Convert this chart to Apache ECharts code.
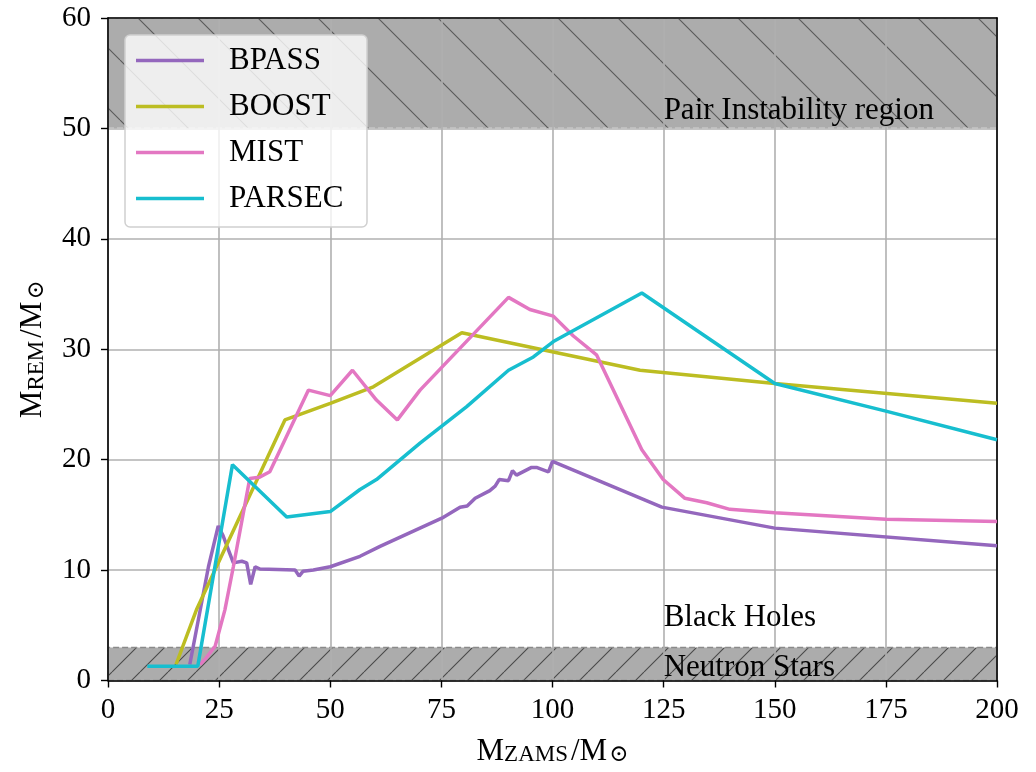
<!DOCTYPE html>
<html>
<head>
<meta charset="utf-8">
<script src="https://cdn.jsdelivr.net/npm/echarts@6/dist/echarts.min.js"></script>
<style>
html, body { margin: 0; padding: 0; background: #fff; }
#main { width: 1036px; height: 772px; }
</style>
</head>
<body>
<div id="main"></div>
<script>
// 轴刻度
var xTicks = [0, 25, 50, 75, 100, 125, 150, 175, 200];
var yTicks = [0, 10, 20, 30, 40, 50, 60];

// 各模型的 [M_ZAMS, M_REM]
var seriesNames = ['BPASS', 'BOOST', 'MIST', 'PARSEC'];
var bpass = [[18.4, 1.45], [22.6, 10.3], [24.8, 14.0], [25.9, 13.1], [28.2, 10.65], [30.1, 10.8], [31.2, 10.65],
    [32.1, 8.7], [33.1, 10.3], [34.2, 10.1], [42.1, 10.0], [43.0, 9.45], [43.9, 9.9], [46.2, 10.0], [50, 10.3],
    [56.7, 11.25], [61.2, 12.15], [75.1, 14.7], [79.2, 15.7], [80.8, 15.8], [82.6, 16.5], [85.9, 17.2],
    [87.1, 17.6], [88.0, 18.2], [90.1, 18.1], [91.0, 19.0], [91.9, 18.6], [95.3, 19.3], [96.4, 19.3],
    [99.1, 18.9], [100, 19.85], [124.6, 15.7], [150, 13.8], [200, 12.2]];
var boost = [[15.3, 1.45], [20, 6.5], [39.8, 23.6], [50, 25.1], [59.7, 26.6], [79.6, 31.5], [119.7, 28.1],
    [150, 26.9], [200, 25.1]];
var mist = [[20.7, 1.45], [22, 2.0], [24.1, 3.1], [26.3, 6.4], [28.2, 10.3], [30, 14.2], [31.9, 18.3],
    [34, 18.4], [36.4, 18.9], [45.1, 26.3], [50, 25.8], [55, 28.1], [60.4, 25.4], [65.1, 23.6], [70.2, 26.3],
    [90.1, 34.7], [94.9, 33.6], [100.2, 33.0], [104.7, 31.2], [109.9, 29.5], [120.1, 20.9], [124.9, 18.2],
    [129.8, 16.5], [134.7, 16.1], [139.9, 15.5], [150, 15.2], [175, 14.6], [200, 14.4]];
var parsec = [[8.85, 1.3], [20.2, 1.3], [28.0, 19.55], [40.2, 14.8], [50, 15.3], [56.7, 17.3], [60.4, 18.2],
    [70.2, 21.5], [80.7, 24.8], [90.1, 28.1], [95.7, 29.3], [100.2, 30.7], [120.1, 35.1], [150, 26.9],
    [175, 24.4], [200, 21.8]];
var seriesColors = ['#9467bd', '#bcbd22', '#e377c2', '#17becf'];

// 区域
var pairRange = [50, 60];
var nsRange = [0, 3];
var regionLabels = [
    { name: 'Pair Instability region', value: [125, 51] },
    { name: 'Black Holes', value: [125, 5] },
    { name: 'Neutron Stars', value: [125, 0.5] }
];

var F = '"Liberation Serif", "DejaVu Serif", serif';

// 斜线填充
function hatch(step, dir, lineColor, lineWidth) {
    var c = document.createElement('canvas');
    c.width = step;
    c.height = step;
    var ctx = c.getContext('2d');
    ctx.fillStyle = '#acacac';
    ctx.fillRect(0, 0, step, step);
    ctx.strokeStyle = lineColor;
    ctx.lineWidth = lineWidth;
    ctx.beginPath();
    for (var k = -1; k <= 1; k++) {
        if (dir === '\\') {
            ctx.moveTo(k * step, 0);
            ctx.lineTo(k * step + step, step);
        } else {
            ctx.moveTo(k * step, step);
            ctx.lineTo(k * step + step, 0);
        }
    }
    ctx.stroke();
    return c;
}

var nameRich = {
    m: { fontFamily: F, fontSize: 31, lineHeight: 30, verticalAlign: 'middle', color: '#000' },
    sl: { fontFamily: F, fontSize: 31, lineHeight: 30, verticalAlign: 'middle', color: '#000', padding: [0, 2, 0, 3] },
    s: { fontFamily: F, fontSize: 23, lineHeight: 12, verticalAlign: 'bottom', color: '#000' }
};

var myChart = echarts.init(document.getElementById('main'));

var lineSeries = [bpass, boost, mist, parsec].map(function (d, i) {
    return {
        name: seriesNames[i],
        type: 'line',
        data: d,
        symbol: 'none',
        z: 3,
        lineStyle: { width: 3.5, color: seriesColors[i] },
        itemStyle: { color: seriesColors[i] }
    };
});

var option = {
    animation: false,
    grid: { left: 108, right: 39, top: 18, bottom: 91 },
    legend: {
        data: seriesNames,
        orient: 'vertical',
        left: 125,
        top: 35,
        z: 10,
        icon: 'rect',
        itemWidth: 68,
        itemHeight: 3.5,
        itemGap: 15,
        padding: [10, 12, 13, 11],
        backgroundColor: 'rgba(255,255,255,0.8)',
        borderColor: '#d0d0d0',
        borderWidth: 1.5,
        borderRadius: 5,
        selectedMode: false,
        textStyle: { fontFamily: F, fontSize: 31, lineHeight: 30, color: '#000', padding: [0, 0, 0, 20], width: 126 }
    },
    xAxis: [{
        type: 'value',
        min: xTicks[0],
        max: xTicks[xTicks.length - 1],
        interval: xTicks[1] - xTicks[0],
        position: 'bottom',
        z: 2,
        name: '{m|M}{s|ZAMS}{sl|/M}{s|⊙}',
        nameLocation: 'middle',
        nameGap: 56,
        nameTextStyle: { rich: nameRich },
        axisLine: { show: true, onZero: false, lineStyle: { color: '#000', width: 1.6 } },
        axisTick: { show: true, inside: false, length: 7, lineStyle: { color: '#000', width: 1.4 } },
        axisLabel: { margin: 15, fontFamily: F, fontSize: 29, color: '#000' },
        splitLine: { show: true, lineStyle: { color: '#b0b0b0', width: 1.6 } }
    }, {
        type: 'value',
        min: xTicks[0],
        max: xTicks[xTicks.length - 1],
        position: 'top',
        z: 2,
        axisLine: { show: true, onZero: false, lineStyle: { color: '#000', width: 1.6 } },
        axisTick: { show: false },
        axisLabel: { show: false },
        splitLine: { show: false }
    }],
    yAxis: [{
        type: 'value',
        min: yTicks[0],
        max: yTicks[yTicks.length - 1],
        interval: yTicks[1] - yTicks[0],
        position: 'left',
        z: 2,
        name: '{m|M}{s|REM}{sl|/M}{s|⊙}',
        nameLocation: 'middle',
        nameGap: 60,
        nameTextStyle: { rich: nameRich },
        axisLine: { show: true, onZero: false, lineStyle: { color: '#000', width: 1.6 } },
        axisTick: { show: true, inside: false, length: 7, lineStyle: { color: '#000', width: 1.4 } },
        axisLabel: { margin: 17, fontFamily: F, fontSize: 29, color: '#000' },
        splitLine: { show: true, lineStyle: { color: '#b0b0b0', width: 1.6 } }
    }, {
        type: 'value',
        min: yTicks[0],
        max: yTicks[yTicks.length - 1],
        position: 'right',
        z: 2,
        axisLine: { show: true, onZero: false, lineStyle: { color: '#000', width: 1.6 } },
        axisTick: { show: false },
        axisLabel: { show: false },
        splitLine: { show: false }
    }],
    series: lineSeries.concat([{
        name: 'regions',
        type: 'scatter',
        symbolSize: 0,
        silent: true,
        z: 4,
        itemStyle: { opacity: 1 },
        data: regionLabels,
        label: {
            show: true,
            formatter: '{b}',
            position: [0, 0],
            align: 'left',
            verticalAlign: 'bottom',
            offset: [0, 8],
            fontFamily: F,
            fontSize: 31,
            lineHeight: 30,
            color: '#000'
        },
        markArea: {
            silent: true,
            z: 1,
            data: [
                [{
                    yAxis: pairRange[0],
                    itemStyle: {
                        color: { image: hatch(60, '\\', '#5a5a5a', 1.1), repeat: 'repeat' },
                        borderColor: 'rgba(255,255,255,0.9)',
                        borderWidth: 1.5,
                        borderType: 'dashed'
                    }
                }, { yAxis: pairRange[1] }],
                [{
                    yAxis: nsRange[0],
                    itemStyle: {
                        color: { image: hatch(28, '/', '#4a4a4a', 1.1), repeat: 'repeat' },
                        borderColor: '#8a8a8a',
                        borderWidth: 1.5,
                        borderType: 'dashed'
                    }
                }, { yAxis: nsRange[1] }]
            ]
        }
    }])
};

myChart.setOption(option);
</script>
</body>
</html>
